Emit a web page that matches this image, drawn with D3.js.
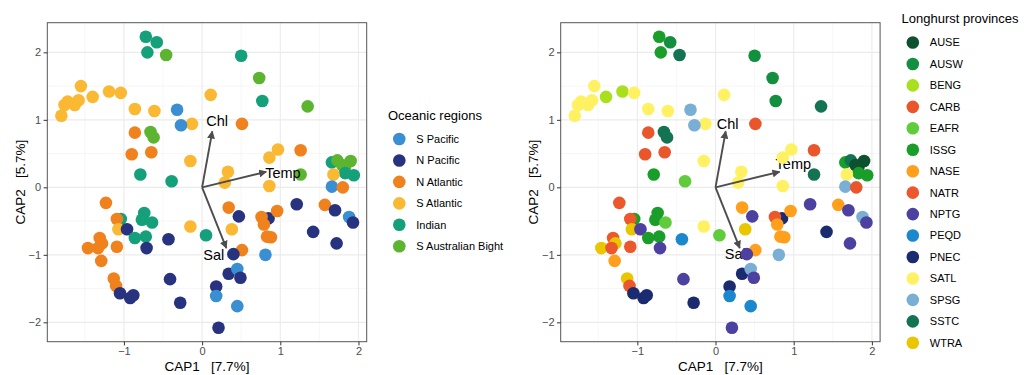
<!DOCTYPE html>
<html>
<head>
<meta charset="utf-8">
<script src="https://cdn.jsdelivr.net/npm/d3@7"></script>
<style>
  body { margin: 0; background: #fff; }
  svg { font-family: "Liberation Sans", Arial, sans-serif; }
  text { white-space: pre; }
</style>
</head>
<body>
<div id="chart"></div>
<script>
// CAP scores for every sample
const cap1 = [-0.72, -0.58, -0.70, -0.46, 0.50, 0.73, 0.77, 1.35,
  -1.80, -1.76, -1.72, -1.63, -1.58, -1.55, -1.40, -1.19, -1.04, -0.86, -0.61, -0.13, 0.11, -0.15,
  -0.32, -0.27, -0.86, -0.90, -0.65, -0.66, -0.62, -0.79, -0.39, 0.51, 1.26, 1.26,
  0.97, 0.86, 0.33, 0.29, 0.86,
  1.66, 1.73, 1.90, 1.83, 1.79, 1.94, 1.83, 1.68, 1.66, 1.80,
  -1.23, -1.04, -1.09, -1.07, -0.96, -0.74, -0.77, -0.64, -0.72, -0.86, -0.71,
  -1.31, -1.28, -1.46, -1.33, -1.09, -1.29, -1.13, -1.10, -1.05, -0.92, -0.88,
  -0.43, -0.41, -0.28, -0.15, 0.05,
  0.34, 0.47, 0.38, 0.85, 0.76, 0.79, 0.96, 0.83, 0.88, 1.21, 1.42, 1.57, 1.70, 1.72, 1.88, 1.93,
  0.81, 0.51, 0.40, 0.34, 0.45, 0.49, 0.18, 0.18, 0.45, 0.21];
const cap2 = [2.23, 2.15, 2.00, 1.96, 1.95, 1.62, 1.28, 1.20,
  1.06, 1.22, 1.27, 1.22, 1.29, 1.50, 1.34, 1.42, 1.40, 1.16, 1.13, 0.94, 1.37, 0.39,
  1.15, 0.92, 0.81, 0.49, 0.52, 0.82, 0.74, 0.19, 0.09, 0.94, 0.55, 0.19,
  0.56, 0.44, 0.23, 0.07, 0.02,
  0.37, 0.40, 0.39, 0.31, 0.33, 0.18, 0.21, 0.19, 0.01, 0.00,
  -0.23, -0.47, -0.47, -0.62, -0.62, -0.38, -0.48, -0.52, -0.73, -0.75, -0.90,
  -0.75, -0.83, -0.90, -0.90, -0.88, -1.09, -1.35, -1.46, -1.57, -1.64, -1.60,
  -0.77, -1.36, -1.71, -0.58, -0.71,
  -0.30, -0.43, -0.62, -0.46, -0.44, -0.55, -0.35, -0.73, -0.74, -0.25, -0.66, -0.26, -0.34, -0.83, -0.44, -0.52,
  -1.00, -0.93, -0.99, -1.28, -1.21, -1.34, -1.47, -1.61, -1.76, -2.08];
const region = ['Indian', 'Indian', 'Indian', 'SAB', 'Indian', 'SAB', 'Indian', 'SAB',
  'SA', 'SA', 'SA', 'SA', 'SA', 'SA', 'SA', 'SA', 'SA', 'SA', 'SA', 'SA', 'SA', 'SA',
  'SP', 'SP', 'NA', 'NA', 'NA', 'SAB', 'SAB', 'Indian', 'Indian', 'NA', 'NA', 'SAB',
  'SA', 'SA', 'SA', 'SA', 'SA',
  'Indian', 'SAB', 'SAB', 'SAB', 'SAB', 'Indian', 'Indian', 'SA', 'SP', 'NA',
  'NA', 'Indian', 'NA', 'SA', 'NP', 'Indian', 'Indian', 'Indian', 'Indian', 'Indian', 'NP',
  'NA', 'NA', 'NA', 'NA', 'NA', 'NA', 'NA', 'NA', 'NP', 'NP', 'NP',
  'NP', 'NP', 'NP', 'SA', 'Indian',
  'NA', 'NP', 'SA', 'NP', 'NA', 'NA', 'NA', 'NA', 'NA', 'NP', 'NP', 'NA', 'NP', 'NP', 'SP', 'NP',
  'SP', 'NA', 'NP', 'NP', 'SP', 'NP', 'NP', 'SP', 'SP', 'NP'];
const province = ['ISSG', 'AUSW', 'ISSG', 'SSTC', 'AUSW', 'AUSW', 'AUSW', 'SSTC',
  'SATL', 'SATL', 'SATL', 'SATL', 'SATL', 'SATL', 'BENG', 'BENG', 'SATL', 'SATL', 'SATL', 'SATL', 'SATL', 'SATL',
  'SPSG', 'SPSG', 'CARB', 'CARB', 'CARB', 'SSTC', 'SSTC', 'ISSG', 'EAFR', 'CARB', 'CARB', 'SSTC',
  'SATL', 'SATL', 'SATL', 'SATL', 'SATL',
  'ISSG', 'SSTC', 'AUSE', 'AUSE', 'AUSE', 'ISSG', 'ISSG', 'SATL', 'SPSG', 'CARB',
  'NATR', 'ISSG', 'NATR', 'WTRA', 'NPTG', 'ISSG', 'ISSG', 'EAFR', 'ISSG', 'ISSG', 'NPTG',
  'NATR', 'WTRA', 'WTRA', 'NATR', 'NATR', 'NASE', 'WTRA', 'NATR', 'PNEC', 'PNEC', 'PNEC',
  'PEQD', 'NPTG', 'PNEC', 'SATL', 'EAFR',
  'NASE', 'NPTG', 'WTRA', 'PNEC', 'NATR', 'NASE', 'NASE', 'NASE', 'NASE', 'NPTG', 'PNEC', 'NASE', 'NPTG', 'NPTG', 'SPSG', 'NPTG',
  'SPSG', 'NASE', 'NPTG', 'PNEC', 'SPSG', 'NPTG', 'PNEC', 'PEQD', 'PEQD', 'NPTG'];

const regionKeys = ['SP', 'NP', 'NA', 'SA', 'Indian', 'SAB'];
const regionLabels = ['S Pacific', 'N Pacific', 'N Atlantic', 'S Atlantic', 'Indian', 'S Australian Bight'];
const regionColors = ['#3a8fd3', '#27337f', '#f0821e', '#fbb833', '#14a07a', '#5db431'];

const provinceKeys = ['AUSE', 'AUSW', 'BENG', 'CARB', 'EAFR', 'ISSG', 'NASE', 'NATR',
  'NPTG', 'PEQD', 'PNEC', 'SATL', 'SPSG', 'SSTC', 'WTRA'];
const provinceColors = ['#0d5230', '#138f40', '#a8e01e', '#ea562b', '#60cc3b', '#1a9e2a', '#ff9f1c', '#ec582b',
  '#4c40a0', '#1b87cc', '#1b2b70', '#fff161', '#7aafd5', '#137353', '#e9c600'];

// environmental vectors
const envNames = ['Chl', 'Temp', 'Sal'];
const envX = [0.13, 0.82, 0.31];
const envY = [0.83, 0.23, -0.90];

const xTicks = [-1, 0, 1, 2];
const yTicks = [-2, -1, 0, 1, 2];
const xMinor = [-1.5, -0.5, 0.5, 1.5];
const yMinor = [-1.5, -0.5, 0.5, 1.5];

const points = cap1.map((x, i) => ({ x, y: cap2[i], region: region[i], province: province[i] }));

const W = 1025, H = 375;
const svg = d3.select('#chart').append('svg').attr('width', W).attr('height', H);

const panelW = 319.4, panelH = 319;
const x = d3.scaleLinear().domain([-1.98, 2.105]).range([0, panelW]);
const y = d3.scaleLinear().domain([-2.287, 2.439]).range([panelH, 0]);
const R = 6.3;

function drawPanel(left, colorOf, labelOffsets, labelsUnder) {
  const g = svg.append('g').attr('transform', `translate(${left},22.7)`);

  g.append('rect').attr('width', panelW).attr('height', panelH).attr('fill', '#fff');

  g.selectAll('.minx').data(xMinor).enter().append('line')
    .attr('x1', d => x(d)).attr('x2', d => x(d)).attr('y1', 0).attr('y2', panelH)
    .attr('stroke', '#f2f2f2').attr('stroke-width', 0.6);
  g.selectAll('.miny').data(yMinor).enter().append('line')
    .attr('y1', d => y(d)).attr('y2', d => y(d)).attr('x1', 0).attr('x2', panelW)
    .attr('stroke', '#f2f2f2').attr('stroke-width', 0.6);
  g.selectAll('.majx').data(xTicks).enter().append('line')
    .attr('x1', d => x(d)).attr('x2', d => x(d)).attr('y1', 0).attr('y2', panelH)
    .attr('stroke', '#ebebeb').attr('stroke-width', 1.1);
  g.selectAll('.majy').data(yTicks).enter().append('line')
    .attr('y1', d => y(d)).attr('y2', d => y(d)).attr('x1', 0).attr('x2', panelW)
    .attr('stroke', '#ebebeb').attr('stroke-width', 1.1);

  const labels = () => {
    g.selectAll('.envlab').data(envNames).enter().append('text')
      .attr('x', (d, i) => x(envX[i]) + labelOffsets[i][0])
      .attr('y', (d, i) => y(envY[i]) + labelOffsets[i][1])
      .attr('font-size', '14.5px').attr('fill', '#000')
      .text(d => d);
  };
  if (labelsUnder) labels();

  g.selectAll('.pt').data(points).enter().append('circle')
    .attr('cx', d => x(d.x)).attr('cy', d => y(d.y)).attr('r', R)
    .attr('fill', d => colorOf(d));

  if (!labelsUnder) labels();

  // arrows
  const id = 'arr' + Math.round(left);
  svg.append('defs').append('marker')
    .attr('id', id).attr('viewBox', '0 0 10 10').attr('refX', 9).attr('refY', 5)
    .attr('markerWidth', 4.2).attr('markerHeight', 4.2).attr('markerUnits', 'strokeWidth')
    .attr('orient', 'auto')
    .append('path').attr('d', 'M0,0L10,5L0,10z').attr('fill', '#4d4d4d');
  g.selectAll('.arrow').data(envNames).enter().append('line')
    .attr('x1', x(0)).attr('y1', y(0))
    .attr('x2', (d, i) => x(envX[i])).attr('y2', (d, i) => y(envY[i]))
    .attr('stroke', '#4d4d4d').attr('stroke-width', 1.9)
    .attr('marker-end', `url(#${id})`);

  g.append('rect').attr('width', panelW).attr('height', panelH)
    .attr('fill', 'none').attr('stroke', '#555').attr('stroke-width', 1);

  const xa = g.append('g').attr('transform', `translate(0,${panelH})`)
    .call(d3.axisBottom(x).tickValues(xTicks).tickSize(3.7).tickSizeOuter(0).tickPadding(2)
      .tickFormat(d => d < 0 ? '\u2212' + Math.abs(d) : d));
  const ya = g.append('g')
    .call(d3.axisLeft(y).tickValues(yTicks).tickSize(3.7).tickSizeOuter(0).tickPadding(2.5)
      .tickFormat(d => d < 0 ? '\u2212' + Math.abs(d) : d));
  [xa, ya].forEach(a => {
    a.select('.domain').remove();
    a.selectAll('line').attr('stroke', '#333');
    a.selectAll('text').attr('fill', '#4d4d4d').attr('font-size', '11px')
      .attr('font-family', '"Liberation Sans", Arial, sans-serif');
  });

  g.append('text').attr('x', panelW / 2).attr('y', panelH + 29.5)
    .attr('text-anchor', 'middle').attr('font-size', '13.5px').attr('fill', '#000')
    .text('CAP1   [7.7%]');
  g.append('text').attr('transform', `translate(${-22.5},${panelH / 2}) rotate(-90)`)
    .attr('text-anchor', 'middle').attr('font-size', '13.5px').attr('fill', '#000')
    .text('CAP2   [5.7%]');
}

const regionColor = d3.scaleOrdinal().domain(regionKeys).range(regionColors);
const provinceColor = d3.scaleOrdinal().domain(provinceKeys).range(provinceColors);

drawPanel(47.3, d => regionColor(d.region), [[-6, -5], [-1, 6], [-23, 12]], false);
drawPanel(560.7, d => provinceColor(d.province), [[-9, -2], [-4, -3], [-15, 11]], true);

// legends
function legend(left, top, title, keys, labels, color) {
  const g = svg.append('g').attr('transform', `translate(${left},${top})`);
  g.append('text').attr('x', 0).attr('y', 0).attr('dy', '0.35em')
    .attr('font-size', '13px').attr('fill', '#000').text(title);
  const items = g.selectAll('.item').data(keys).enter().append('g')
    .attr('transform', (d, i) => `translate(0,${24 + i * 21.45})`);
  items.append('circle').attr('cx', 11.3).attr('cy', 0).attr('r', R).attr('fill', d => color(d));
  items.append('text').attr('x', 28.3).attr('y', 0).attr('dy', '0.35em')
    .attr('font-size', '11px').attr('fill', '#000').text((d, i) => labels[i]);
}
legend(388, 115, 'Oceanic regions', regionKeys, regionLabels, regionColor);
legend(901.5, 18.5, 'Longhurst provinces', provinceKeys, provinceKeys, provinceColor);
</script>
</body>
</html>
